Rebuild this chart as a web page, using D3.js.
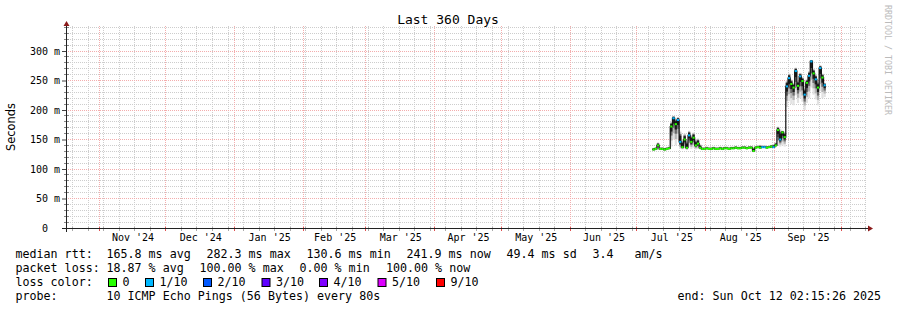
<!DOCTYPE html>
<html><head><meta charset="utf-8">
<script src="https://cdn.jsdelivr.net/npm/d3@7"></script>
<style>body{margin:0;background:#fff} svg{display:block}</style>
</head><body>
<svg id="c" width="897" height="310"></svg>
<script>
// ---------------- data ----------------
const title = "Last 360 Days";
const endTime = "2025-10-12T02:15:26Z";
const spanDays = 360;
const firstDay = "2025-07-08";
// daily median RTT (ms)
const median = [133,134,140,134,134,133,134,135,172,186,176,183,146,137,150,136,157,146,153,140,143,136,
  134,134,135,134,134,135,134,134,135,134,135,135,134,135,135,136,135,135,136,136,135,136,136,130.6,136,137,136,137,137,136,137,138,137,
  140,166,150,162,154,240,254,244,238,266,241,257,249,226,246,258,282.3,262,252,238,271,255,241.9];
// lost pings out of 10
const loss = [0,0,0,0,0,0,0,0,0,1,0,1,1,0,0,0,1,0,0,0,0,0,
  0,0,0,0,0,0,0,0,0,0,0,0,0,0,0,0,0,0,0,0,0,0,0,0,0,0,0,1,1,0,0,0,1,
  0,0,1,0,0,1,1,0,0,1,0,1,0,1,0,1,1,0,1,0,1,0,1];
// lowest / highest ping of each day (ms)
const smokeLo = [131,132,133,132,132,131,132,133,138,150,140,150,134,133,135,132,138,134,136,133,134,133,
  132,132,133,132,132,133,132,132,133,132,133,133,132,133,133,134,133,133,134,134,133,134,134,128,134,135,134,135,135,134,135,135,136,
  137,140,138,140,138,205,215,210,208,225,212,220,214,200,212,220,238,226,218,208,232,220,222];
const smokeHi = [136,137,145,137,137,136,137,138,180,190,185,188,165,150,160,148,165,158,162,150,152,142,
  137,137,138,137,137,138,137,137,138,137,138,138,137,138,138,139,138,138,139,139,138,139,139,137,139,140,141,140,140,139,140,141,142,
  145,172,168,165,163,250,262,252,246,272,250,263,256,238,252,266,285,270,260,248,276,262,246];
const yTicks = [0,50,100,150,200,250,300];
const lossLabels = ["0","1/10","2/10","3/10","4/10","5/10","9/10"];
const lossColors = ["#26ff00","#00b8ff","#0059ff","#5e00ff","#7e00ff","#dd00ff","#ff0000"];
const statsRtt = ["median rtt:","165.8 ms avg","282.3 ms max","130.6 ms min","241.9 ms now","49.4 ms sd","3.4","am/s"];
const statsLoss = ["packet loss:","18.87 % avg","100.00 % max","0.00 % min","100.00 % now"];
const probeText = ["probe:","10 ICMP Echo Pings (56 Bytes) every 80s"];
const endText = "end: Sun Oct 12 02:15:26 2025";
const watermark = "RRDTOOL / TOBI OETIKER";

// ---------------- layout ----------------
const L = 66, R = 866, B = 228, T = 26;
const svg = d3.select("#c");
const mono = "'DejaVu Sans Mono', monospace";
svg.append("rect").attr("width",897).attr("height",310).attr("fill","#fff");

const tEnd = new Date(endTime);
const tStart = d3.utcDay.offset(tEnd, -spanDays);
const x = d3.scaleUtc().domain([tStart, tEnd]).range([L, R]);
const y = d3.scaleLinear().domain([0, 300]).range([B, 51]);
const yTop = y.invert(T);
const px = v => Math.floor(v) + 0.5;
const minorCol = "#cdcdcd", majorCol = "#f3adad";

const g = svg.append("g");
const weeks = d3.utcSunday.range(tStart, tEnd);
const months = d3.utcMonth.range(tStart, tEnd);
const monthSet = new Set(months.map(d => +d));
g.selectAll(".vw").data(weeks.filter(d => !monthSet.has(+d))).join("line")
  .attr("x1", d => px(x(d))).attr("x2", d => px(x(d))).attr("y1", T).attr("y2", B)
  .attr("stroke", minorCol).attr("stroke-dasharray", "1,1");
const minorY = d3.range(10, yTop, 10).filter(v => v % 50 !== 0);
g.selectAll(".hw").data(minorY).join("line")
  .attr("x1", L).attr("x2", R).attr("y1", d => px(y(d))).attr("y2", d => px(y(d)))
  .attr("stroke", minorCol).attr("stroke-dasharray", "1,1");
g.selectAll(".vm").data(months).join("line")
  .attr("x1", d => px(x(d))).attr("x2", d => px(x(d))).attr("y1", T).attr("y2", B)
  .attr("stroke", majorCol).attr("stroke-dasharray", "1,1");
g.selectAll(".hm").data(yTicks.filter(v => v > 0)).join("line")
  .attr("x1", L).attr("x2", R).attr("y1", d => px(y(d))).attr("y2", d => px(y(d)))
  .attr("stroke", majorCol).attr("stroke-dasharray", "1,1");

// ---------------- data marks ----------------
const day0 = new Date(firstDay + "T00:00:00Z");
const days = median.map((m, i) => ({
  t0: d3.utcDay.offset(day0, i), t1: d3.utcDay.offset(day0, i + 1),
  med: m, loss: loss[i], lo: smokeLo[i], hi: smokeHi[i]
}));
const lossIdx = l => l <= 5 ? l : 6;
const dg = svg.append("g");
const band = (cls, fill, fLo, fHi) => dg.selectAll("." + cls).data(days).join("rect")
  .attr("x", d => x(d.t0)).attr("width", d => x(d.t1) - x(d.t0))
  .attr("y", d => y(d.med + (d.hi - d.med) * fHi))
  .attr("height", d => y(d.med - (d.med - d.lo) * fLo) - y(d.med + (d.hi - d.med) * fHi))
  .attr("fill", fill);
band("s1", "#e2e2e2", 1, 1);
band("s2", "#b4b4b4", 0.7, 0.85);
band("s3", "#6a6a6a", 0.45, 0.7);
band("s4", "#1c1c1c", 0.25, 0.55);
// step line connecting medians
const step = d3.line().x(d => x(d.t)).y(d => y(d.v)).curve(d3.curveStepAfter);
const stepPts = days.map(d => ({t: d.t0, v: d.med}));
stepPts.push({t: days[days.length - 1].t1, v: days[days.length - 1].med});
dg.append("path").attr("d", step(stepPts)).attr("fill", "none").attr("stroke", "#111").attr("stroke-width", 1.2);
// median coloured by loss
dg.selectAll(".md").data(days).join("line")
  .attr("x1", d => x(d.t0)).attr("x2", d => x(d.t1))
  .attr("y1", d => y(d.med)).attr("y2", d => y(d.med))
  .attr("stroke", d => lossColors[lossIdx(d.loss)]).attr("stroke-width", 2);

// ---------------- axes ----------------
const ax = svg.append("g");
const yAxis = d3.axisLeft(y).tickValues(yTicks).tickSize(4).tickPadding(2)
  .tickFormat(d => d === 0 ? "0\u00a0\u00a0" : d + " m");
const yg = ax.append("g").attr("transform", `translate(${L},0)`).call(yAxis);
yg.select(".domain").remove();
yg.selectAll("text").attr("font-family", mono).attr("font-size", 10).attr("fill", "#000").style("white-space", "pre");
yg.selectAll("line").attr("stroke", "#444");
ax.selectAll(".ymt").data(minorY).join("line")
  .attr("x1", L - 2).attr("x2", L + 3).attr("y1", d => px(y(d))).attr("y2", d => px(y(d)))
  .attr("stroke", "#888");
const mids = months.filter(m => d3.utcMonth.offset(m, 1) <= tEnd)
  .map(m => new Date((+m + +d3.utcMonth.offset(m, 1)) / 2));
const xAxis = d3.axisBottom(x).tickValues(mids).tickSize(0).tickPadding(0).tickFormat(d3.utcFormat("%b '%y"));
const xg = ax.append("g").attr("transform", `translate(0,${B})`).call(xAxis);
xg.select(".domain").remove();
xg.selectAll("text").attr("font-family", mono).attr("font-size", 10).attr("fill", "#000")
  .attr("dy", null).attr("y", 13);
ax.selectAll(".xwt").data(weeks).join("line")
  .attr("x1", d => px(x(d))).attr("x2", d => px(x(d))).attr("y1", B - 1).attr("y2", B + 3)
  .attr("stroke", "#aaa");
ax.selectAll(".xmt").data(months).join("line")
  .attr("x1", d => px(x(d))).attr("x2", d => px(x(d))).attr("y1", B - 1).attr("y2", B + 3)
  .attr("stroke", "#e05050");
ax.append("line").attr("x1", L + 0.5).attr("x2", L + 0.5).attr("y1", B + 4).attr("y2", T - 2).attr("stroke", "#222");
ax.append("line").attr("x1", L - 4).attr("x2", R + 2).attr("y1", B + 0.5).attr("y2", B + 0.5).attr("stroke", "#222");
ax.append("path").attr("d", `M${L + 0.5},${T - 5} l-3,5 h6 z`).attr("fill", "#8b1a1a");
ax.append("path").attr("d", `M${R + 7},${B + 0.5} l-5,-3 v6 z`).attr("fill", "#8b1a1a");

// ---------------- texts ----------------
svg.append("text").attr("x", 448).attr("y", 24).attr("text-anchor", "middle")
  .attr("font-family", mono).attr("font-size", 13).text(title);
svg.append("text").attr("transform", "translate(15,127) rotate(-90)").attr("text-anchor", "middle")
  .attr("font-family", "'DejaVu Sans', sans-serif").attr("font-size", 11.4).text("Seconds");
svg.append("text").attr("transform", "translate(885,5) rotate(90)")
  .attr("font-family", mono).attr("font-size", 8.3).attr("fill", "#bbb").text(watermark);

const leg = svg.append("g").attr("font-family", mono).attr("font-size", 11.66).attr("fill", "#000");
const row = (items, xs, yy) => items.forEach((s, i) => leg.append("text").attr("x", xs[i]).attr("y", yy).text(s));
row(statsRtt, [15.5, 106.5, 206.5, 306.5, 406.5, 506.5, 592.5, 634.5], 258);
row(statsLoss, [15.5, 106.5, 199.5, 299.5, 386], 272);
row(["loss color:"], [15.5], 286);
const sqX = [108, 145, 203, 261.5, 319, 377.5, 436];
lossLabels.forEach((lab, i) => {
  leg.append("rect").attr("x", sqX[i] + 0.5).attr("y", 278.5).attr("width", 8).attr("height", 8)
    .attr("fill", lossColors[i]).attr("stroke", "#000").attr("stroke-width", 1);
  leg.append("text").attr("x", sqX[i] + 14.5).attr("y", 286).text(lab);
});
row(probeText, [15.5, 106.5], 300);
leg.append("text").attr("x", 677.5).attr("y", 300).text(endText);
</script>
</body></html>
